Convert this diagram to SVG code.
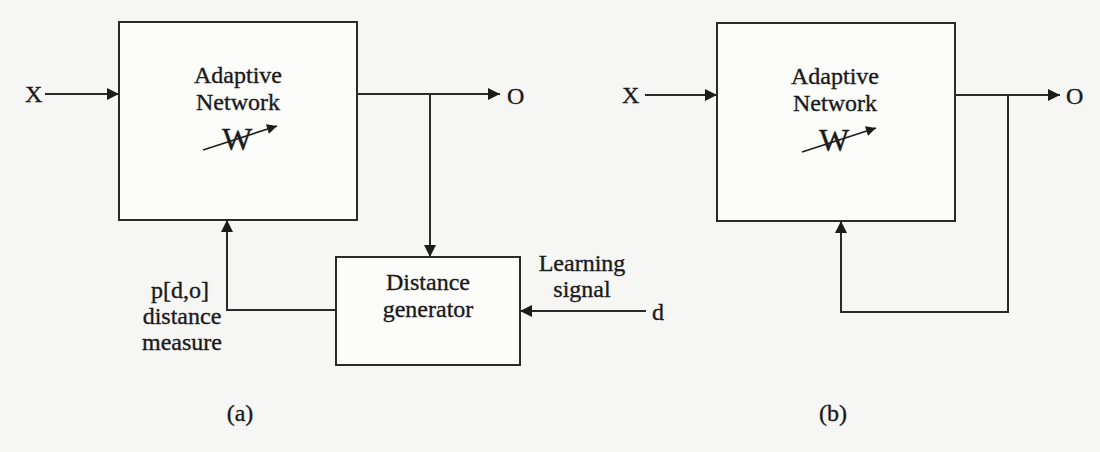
<svg xmlns="http://www.w3.org/2000/svg" width="1100" height="452" viewBox="0 0 1100 452">
  <defs>
    <marker id="arr" viewBox="0 0 10 10" refX="10" refY="5" markerWidth="14" markerHeight="12" markerUnits="userSpaceOnUse" orient="auto">
      <path d="M0,0 L10,5 L0,10 z" fill="#1c1c1c"/>
    </marker>
    <marker id="arrSmall" viewBox="0 0 10 10" refX="10" refY="5" markerWidth="13" markerHeight="10" markerUnits="userSpaceOnUse" orient="auto">
      <path d="M0,0 L10,5 L0,10 z" fill="#1c1c1c"/>
    </marker>
  </defs>
  <style>
    .box { fill: #fcfcfb; stroke: #2a2a2a; stroke-width: 2; }
    .wire { fill: none; stroke: #2a2a2a; stroke-width: 2; }
    .thin { fill: none; stroke: #1c1c1c; stroke-width: 1.6; }
    text { font-family: "Liberation Serif", "Times New Roman", serif; font-size: 24px; fill: #1a1a1a; stroke: #1a1a1a; stroke-width: 0.35; }
    .mid { text-anchor: middle; }
    .w { font-size: 32px; }
  </style>
  <rect width="1100" height="452" fill="#f6f6f4"/>

  <!-- (a) learning with a distance generator -->
  <g id="adaptive-network-a">
    <rect class="box" x="119" y="22" width="238" height="198"/>
    <text class="mid" x="238" y="83">Adaptive</text>
    <text class="mid" x="238" y="110">Network</text>
    <text class="mid w" x="237" y="150">W</text>
    <line class="thin" x1="203" y1="150" x2="277" y2="126" marker-end="url(#arrSmall)"/>
  </g>
  <g id="distance-generator">
    <rect class="box" x="336" y="257" width="184" height="108"/>
    <text class="mid" x="428" y="290">Distance</text>
    <text class="mid" x="428" y="317">generator</text>
  </g>
  <g id="labels-a">
    <text x="25" y="102">X</text>
    <text x="507" y="104">O</text>
    <text class="mid" x="582" y="271">Learning</text>
    <text class="mid" x="582" y="297">signal</text>
    <text x="652" y="320">d</text>
    <text class="mid" x="180" y="298">p[d,o]</text>
    <text class="mid" x="182" y="324">distance</text>
    <text class="mid" x="182" y="350">measure</text>
    <text class="mid" x="240" y="421">(a)</text>
  </g>
  <g id="connectors-a">
    <line class="wire" x1="45" y1="94" x2="119" y2="94" marker-end="url(#arr)"/>
    <line class="wire" x1="357" y1="94" x2="500" y2="94" marker-end="url(#arr)"/>
    <line class="wire" x1="430" y1="94" x2="430" y2="257" marker-end="url(#arr)"/>
    <polyline class="wire" points="336,310 227,310 227,220" marker-end="url(#arr)"/>
    <line class="wire" x1="646" y1="311" x2="520" y2="311" marker-end="url(#arr)"/>
  </g>

  <!-- (b) unsupervised learning, output fed straight back -->
  <g id="adaptive-network-b">
    <rect class="box" x="717" y="23" width="238" height="198"/>
    <text class="mid" x="835" y="84">Adaptive</text>
    <text class="mid" x="835" y="111">Network</text>
    <text class="mid w" x="834" y="151">W</text>
    <line class="thin" x1="802" y1="152" x2="876" y2="128" marker-end="url(#arrSmall)"/>
  </g>
  <g id="labels-b">
    <text x="622" y="103">X</text>
    <text x="1066" y="104">O</text>
    <text class="mid" x="833" y="421">(b)</text>
  </g>
  <g id="connectors-b">
    <line class="wire" x1="645" y1="95" x2="717" y2="95" marker-end="url(#arr)"/>
    <line class="wire" x1="955" y1="95" x2="1060" y2="95" marker-end="url(#arr)"/>
    <polyline class="wire" points="1008,95 1008,312 841,312 841,221" marker-end="url(#arr)"/>
  </g>
</svg>
